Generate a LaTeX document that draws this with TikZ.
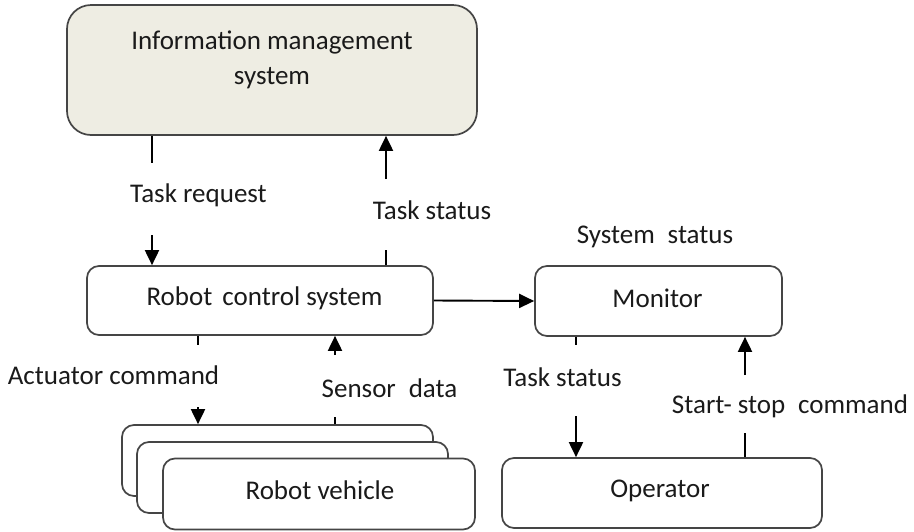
\documentclass[tikz,border=0pt]{standalone}
\usepackage{fontspec}
\setmainfont{Carlito}
\usetikzlibrary{arrows.meta}
\definecolor{boxline}{HTML}{454545}
\definecolor{imsfill}{HTML}{EEEDE3}
\definecolor{txt}{HTML}{1A1A1A}
\begin{document}
\begin{tikzpicture}[x=1pt,y=-1pt,
  box/.style={draw=boxline, line width=1.7pt, rounded corners=12pt, fill=white,
              inner sep=0pt, minimum width=#1},
  lbl/.style={font=\fontsize{27}{32}\selectfont, text=txt, inner sep=0pt, align=center},
  link/.style={draw=black, line width=1.9pt},
  tip/.style={link, -{Triangle[length=15pt,width=14pt]}}]
\useasboundingbox (0,0) rectangle (914,531);

% blocks
\node[box=410pt, minimum height=130pt, fill=imsfill, rounded corners=24pt] (ims) at (272,70) {};
\node[lbl] (imstext) at (272,60) {Information management\\[3pt]system};
\node[box=346pt, minimum height=69pt] (rcs) at (260,300.5) {};
\node[lbl] (rcstext) at (264.5,298) {Robot\hspace{0.15em} control system};
\node[box=247pt, minimum height=70pt] (mon) at (658.5,301) {};
\node[lbl] (montext) at (657.5,298) {Monitor};
\node[box=311pt, minimum height=71pt] (rv1) at (277.5,460.5) {};
\node[box=311pt, minimum height=71pt] (rv2) at (292.5,477.5) {};
\node[box=312pt, minimum height=71pt] (rv3) at (319,494) {};
\node[lbl] (rvtext) at (320,490) {Robot vehicle};
\node[box=320pt, minimum height=70pt] (op) at (662,493) {};
\node[lbl] (optext) at (660,491) {Operator};

% connector labels
\node[lbl] (ltr) at (198.5,195) {Task request};
\node[lbl] (lts1) at (432,210) {Task status};
\node[lbl] (lss) at (655,237) {System\hspace{0.25em} status};
\node[lbl] (lac) at (113.5,375) {Actuator command};
\node[lbl] (lsd) at (389.5,388) {Sensor\hspace{0.25em} data};
\node[lbl] (lts2) at (562.5,377) {Task status};
\node[lbl] (lst) at (790,406) {Start-\hspace{0.22em}stop\hspace{0.25em} command};

% free ends of the split connectors
\coordinate (trA) at (152,163);  \coordinate (trB) at (152,235);
\coordinate (tsA) at (386,250);  \coordinate (tsB) at (386,179);
\coordinate (acA) at (198,345);  \coordinate (acB) at (198,407);
\coordinate (sdA) at (335,417);  \coordinate (sdB) at (335,355);
\coordinate (mtA) at (576,345);  \coordinate (mtB) at (576,416);
\coordinate (ssA) at (745,433);  \coordinate (ssB) at (745,375);

% connectors
\draw[link] (ims.south -| trA) -- (trA);
\draw[tip]  (trB) -- (rcs.north -| trB);
\draw[link] (rcs.north -| tsA) -- (tsA);
\draw[tip]  (tsB) -- (ims.south -| tsB);
\draw[tip]  (rcs.east) -- (mon.west);
\draw[link] (rcs.south -| acA) -- (acA);
\draw[tip]  (acB) -- (rv1.north -| acB);
\draw[link] (rv1.north -| sdA) -- (sdA);
\draw[tip]  (sdB) -- (rcs.south -| sdB);
\draw[link] (mon.south -| mtA) -- (mtA);
\draw[tip]  (mtB) -- (op.north -| mtB);
\draw[link] (op.north -| ssA) -- (ssA);
\draw[tip]  (ssB) -- (mon.south -| ssB);
\end{tikzpicture}
\end{document}
